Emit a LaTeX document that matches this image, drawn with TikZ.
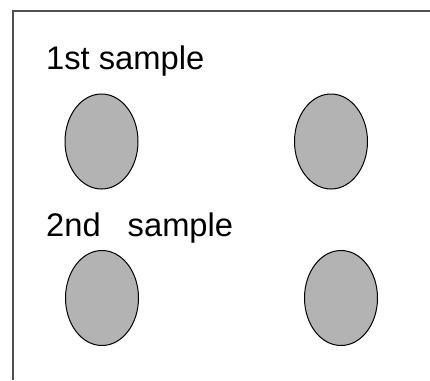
\documentclass[tikz,border=0pt]{standalone}
\usepackage{fontspec}
\setmainfont{Liberation Sans}
\usetikzlibrary{shapes.geometric}
\definecolor{framegray}{RGB}{80,80,80}
\definecolor{blobfill}{RGB}{179,179,179}
\tikzset{
  blob/.style={ellipse, draw=black, line width=1pt, fill=blobfill,
    minimum width=73pt, minimum height=95pt, inner sep=0pt},
  caption/.style={anchor=base west, inner sep=0pt,
    font=\fontsize{32.7}{39}\selectfont}
}
\begin{document}
\begin{tikzpicture}[x=1pt,y=-1pt]
  \useasboundingbox (0,0) rectangle (430,380);
  % open frame: top and left edges only
  \draw[framegray, line width=1.8pt] (13,380) -- (13,11) -- (430,11);
  % labels
  \node[caption] (first) at (46,69.5) {1st sample};
  \node[caption] (second) at (46,236) {2nd\hspace{27pt}sample};
  % samples
  \node[blob] (a1) at (101.5,141.5) {};
  \node[blob] (a2) at (331,141.5) {};
  \node[blob] (b1) at (102,298) {};
  \node[blob] (b2) at (341,298) {};
\end{tikzpicture}
\end{document}
